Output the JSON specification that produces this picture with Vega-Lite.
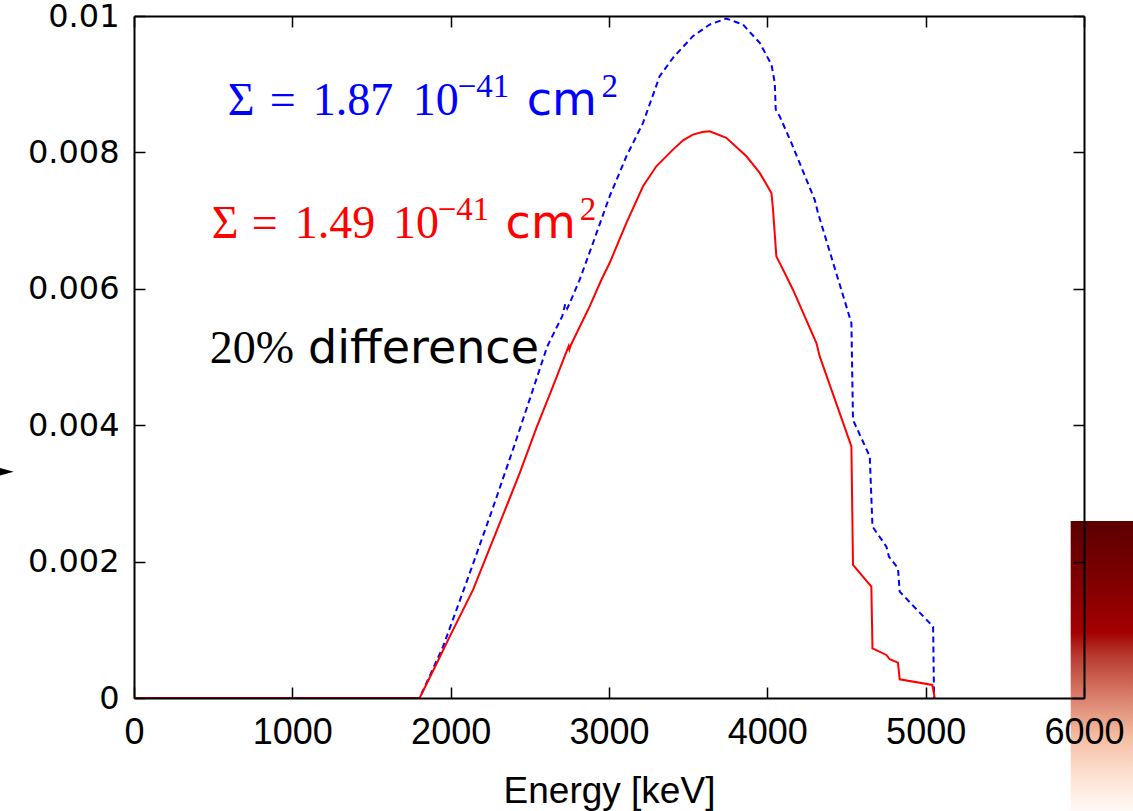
{
  "$schema": "https://vega.github.io/schema/vega-lite/v6.json",
  "width": 950,
  "height": 682,
  "autosize": {"type": "none"},
  "padding": {"left": 134, "top": 16, "right": 49, "bottom": 113},
  "background": "white",
  "config": {"view": {"stroke": null}},
  "datasets": {
    "curves": [
      {"E": 0, "v": 0, "s": "1.87"}, {"E": 1804, "v": 0, "s": "1.87"}, {"E": 1952, "v": 0.000753, "s": "1.87"},
      {"E": 2105, "v": 0.001731, "s": "1.87"}, {"E": 2255, "v": 0.00271, "s": "1.87"}, {"E": 2400, "v": 0.003688, "s": "1.87"},
      {"E": 2505, "v": 0.004421, "s": "1.87"}, {"E": 2610, "v": 0.005155, "s": "1.87"}, {"E": 2705, "v": 0.0056, "s": "1.87"},
      {"E": 2724, "v": 0.00578, "s": "1.87"}, {"E": 2736, "v": 0.00571, "s": "1.87"}, {"E": 2752, "v": 0.005791, "s": "1.87"},
      {"E": 2815, "v": 0.006134, "s": "1.87"}, {"E": 2899, "v": 0.006672, "s": "1.87"}, {"E": 3004, "v": 0.007356, "s": "1.87"},
      {"E": 3110, "v": 0.007943, "s": "1.87"}, {"E": 3215, "v": 0.008433, "s": "1.87"}, {"E": 3320, "v": 0.009117, "s": "1.87"},
      {"E": 3404, "v": 0.009387, "s": "1.87"}, {"E": 3530, "v": 0.009704, "s": "1.87"}, {"E": 3636, "v": 0.009875, "s": "1.87"},
      {"E": 3741, "v": 0.009963, "s": "1.87"}, {"E": 3846, "v": 0.009875, "s": "1.87"}, {"E": 3952, "v": 0.009606, "s": "1.87"},
      {"E": 4026, "v": 0.009288, "s": "1.87"}, {"E": 4047, "v": 0.00902, "s": "1.87"}, {"E": 4053, "v": 0.008628, "s": "1.87"},
      {"E": 4078, "v": 0.00853, "s": "1.87"}, {"E": 4152, "v": 0.008139, "s": "1.87"}, {"E": 4204, "v": 0.007846, "s": "1.87"},
      {"E": 4299, "v": 0.007307, "s": "1.87"}, {"E": 4320, "v": 0.007112, "s": "1.87"}, {"E": 4531, "v": 0.005498, "s": "1.87"},
      {"E": 4541, "v": 0.004079, "s": "1.87"}, {"E": 4647, "v": 0.003541, "s": "1.87"}, {"E": 4664, "v": 0.002514, "s": "1.87"},
      {"E": 4752, "v": 0.00222, "s": "1.87"}, {"E": 4768, "v": 0.002073, "s": "1.87"}, {"E": 4825, "v": 0.001903, "s": "1.87"},
      {"E": 4836, "v": 0.00156, "s": "1.87"}, {"E": 5047, "v": 0.001046, "s": "1.87"}, {"E": 5053, "v": 0, "s": "1.87"},
      {"E": 0, "v": 0, "s": "1.49"}, {"E": 1804, "v": 0, "s": "1.49"}, {"E": 1900, "v": 0.00045, "s": "1.49"},
      {"E": 1994, "v": 0.0009, "s": "1.49"}, {"E": 2141, "v": 0.001585, "s": "1.49"}, {"E": 2310, "v": 0.002563, "s": "1.49"},
      {"E": 2436, "v": 0.003297, "s": "1.49"}, {"E": 2541, "v": 0.003957, "s": "1.49"}, {"E": 2646, "v": 0.004568, "s": "1.49"},
      {"E": 2745, "v": 0.00516, "s": "1.49"}, {"E": 2750, "v": 0.00511, "s": "1.49"}, {"E": 2760, "v": 0.00518, "s": "1.49"},
      {"E": 2878, "v": 0.005742, "s": "1.49"}, {"E": 2952, "v": 0.006133, "s": "1.49"}, {"E": 3004, "v": 0.006378, "s": "1.49"},
      {"E": 3110, "v": 0.006966, "s": "1.49"}, {"E": 3215, "v": 0.007503, "s": "1.49"}, {"E": 3299, "v": 0.007796, "s": "1.49"},
      {"E": 3404, "v": 0.008041, "s": "1.49"}, {"E": 3470, "v": 0.00818, "s": "1.49"}, {"E": 3530, "v": 0.008261, "s": "1.49"},
      {"E": 3590, "v": 0.0083, "s": "1.49"}, {"E": 3636, "v": 0.00831, "s": "1.49"}, {"E": 3741, "v": 0.008213, "s": "1.49"},
      {"E": 3868, "v": 0.007943, "s": "1.49"}, {"E": 3952, "v": 0.007699, "s": "1.49"}, {"E": 4026, "v": 0.007405, "s": "1.49"},
      {"E": 4036, "v": 0.00716, "s": "1.49"}, {"E": 4057, "v": 0.006476, "s": "1.49"}, {"E": 4110, "v": 0.006232, "s": "1.49"},
      {"E": 4162, "v": 0.005987, "s": "1.49"}, {"E": 4310, "v": 0.005205, "s": "1.49"}, {"E": 4331, "v": 0.005008, "s": "1.49"},
      {"E": 4531, "v": 0.003688, "s": "1.49"}, {"E": 4541, "v": 0.001952, "s": "1.49"}, {"E": 4657, "v": 0.001633, "s": "1.49"},
      {"E": 4664, "v": 0.000729, "s": "1.49"}, {"E": 4752, "v": 0.000631, "s": "1.49"}, {"E": 4773, "v": 0.000568, "s": "1.49"},
      {"E": 4825, "v": 0.000518, "s": "1.49"}, {"E": 4836, "v": 0.000274, "s": "1.49"}, {"E": 5042, "v": 0.000191, "s": "1.49"},
      {"E": 5057, "v": 0, "s": "1.49"}
    ],
    "notes": [
      {"t": "Σ", "E": 592, "v": 0.008555, "c": "b", "p": "serif"},
      {"t": "=", "E": 857, "v": 0.008555, "c": "b", "p": "serif"},
      {"t": "1.87", "E": 1129, "v": 0.008555, "c": "b", "p": "serif"},
      {"t": "10", "E": 1760, "v": 0.008555, "c": "b", "p": "serif"},
      {"t": "−41", "E": 2044, "v": 0.008819, "c": "b", "p": "sup"},
      {"t": "cm", "E": 2481, "v": 0.008555, "c": "b", "p": "sans"},
      {"t": "2", "E": 2952, "v": 0.008819, "c": "b", "p": "sup"},
      {"t": "Σ", "E": 491, "v": 0.006745, "c": "r", "p": "serif"},
      {"t": "=", "E": 743, "v": 0.006745, "c": "r", "p": "serif"},
      {"t": "1.49", "E": 1015, "v": 0.006745, "c": "r", "p": "serif"},
      {"t": "10", "E": 1635, "v": 0.006745, "c": "r", "p": "serif"},
      {"t": "−41", "E": 1918, "v": 0.007014, "c": "r", "p": "sup"},
      {"t": "cm", "E": 2347, "v": 0.006745, "c": "r", "p": "sans"},
      {"t": "2", "E": 2815, "v": 0.007014, "c": "r", "p": "sup"},
      {"t": "20%", "E": 479, "v": 0.004911, "c": "k", "p": "serif"},
      {"t": "difference", "E": 1099, "v": 0.004911, "c": "k", "p": "sans"}
    ]
  },
  "layer": [
    {
      "data": {"values": [{}]},
      "mark": {
        "type": "rect",
        "fill": {
          "gradient": "linear", "x1": 0, "y1": 0, "x2": 0, "y2": 1,
          "stops": [
            {"offset": 0, "color": "#5a0000"},
            {"offset": 0.2, "color": "#800000"},
            {"offset": 0.37, "color": "#a30000"},
            {"offset": 0.45, "color": "#b83a30"},
            {"offset": 0.6, "color": "#dd8570"},
            {"offset": 0.72, "color": "#f5bda2"},
            {"offset": 0.85, "color": "#fde2d2"},
            {"offset": 1, "color": "#ffffff"}
          ]
        }
      },
      "encoding": {
        "x": {"datum": 5916, "type": "quantitative", "axis": null},
        "x2": {"datum": 6330},
        "y": {"datum": 0.002597, "type": "quantitative", "axis": null},
        "y2": {"datum": -0.0018}
      }
    },
    {
      "data": {"name": "curves"},
      "transform": [{"filter": "datum.s === '1.87'"}],
      "mark": {"type": "line", "color": "#0000ff", "strokeWidth": 2, "strokeDash": [6, 4]},
      "encoding": {
        "x": {
          "field": "E", "type": "quantitative",
          "scale": {"domain": [0, 6000], "nice": false, "zero": false},
          "axis": {"orient": "top", "values": [0, 1000, 2000, 3000, 4000, 5000, 6000], "labels": false, "title": null,
                   "tickSize": -11, "tickColor": "#000", "tickWidth": 1.5, "domainColor": "#000", "domainWidth": 2, "grid": false, "zindex": 1}
        },
        "y": {
          "field": "v", "type": "quantitative",
          "scale": {"domain": [0, 0.01], "nice": false, "zero": false},
          "axis": {"orient": "right", "values": [0, 0.002, 0.004, 0.006, 0.008, 0.01], "labels": false, "title": null,
                   "tickSize": -11, "tickColor": "#000", "tickWidth": 1.5, "domainColor": "#000", "domainWidth": 2, "grid": false, "zindex": 1}
        },
        "order": {"field": "E", "type": "quantitative"}
      }
    },
    {
      "data": {"name": "curves"},
      "transform": [{"filter": "datum.s === '1.49'"}],
      "mark": {"type": "line", "color": "#ff0000", "strokeWidth": 2},
      "encoding": {
        "x": {
          "field": "E", "type": "quantitative",
          "axis": {"orient": "bottom", "values": [0, 1000, 2000, 3000, 4000, 5000, 6000], "format": "d",
                   "title": "Energy [keV]", "titleFont": "Liberation Sans", "titleFontSize": 37, "titleFontWeight": "normal",
                   "titleColor": "#000", "titlePadding": 23,
                   "labelFont": "Liberation Sans", "labelFontSize": 36, "labelColor": "#000", "labelPadding": 28,
                   "labelFlush": false, "labelOverlap": false, "labelBound": false,
                   "tickSize": -11, "tickColor": "#000", "tickWidth": 1.5, "domainColor": "#000", "domainWidth": 2, "grid": false, "zindex": 1}
        },
        "y": {
          "field": "v", "type": "quantitative",
          "axis": {"orient": "left", "values": [0, 0.002, 0.004, 0.006, 0.008, 0.01], "labelExpr": "'' + datum.value",
                   "title": null, "labelFont": "DejaVu Sans", "labelFontSize": 32, "labelColor": "#000", "labelPadding": 26,
                   "labelOverlap": false, "labelBound": false, "labelFlush": false,
                   "tickSize": -11, "tickColor": "#000", "tickWidth": 1.5, "domainColor": "#000", "domainWidth": 2, "grid": false, "zindex": 1}
        },
        "order": {"field": "E", "type": "quantitative"}
      }
    },
    {
      "data": {"name": "notes"},
      "transform": [{"filter": "datum.p === 'serif'"}],
      "mark": {"type": "text", "font": "Liberation Serif", "fontSize": 46, "align": "left", "baseline": "alphabetic"},
      "encoding": {
        "x": {"field": "E", "type": "quantitative", "axis": null},
        "y": {"field": "v", "type": "quantitative", "axis": null},
        "text": {"field": "t"},
        "color": {"field": "c", "type": "nominal", "scale": {"domain": ["b", "r", "k"], "range": ["#0000ff", "#ff0000", "#000000"]}, "legend": null}
      }
    },
    {
      "data": {"name": "notes"},
      "transform": [{"filter": "datum.p === 'sup'"}],
      "mark": {"type": "text", "font": "Liberation Serif", "fontSize": 33, "align": "left", "baseline": "alphabetic"},
      "encoding": {
        "x": {"field": "E", "type": "quantitative", "axis": null},
        "y": {"field": "v", "type": "quantitative", "axis": null},
        "text": {"field": "t"},
        "color": {"field": "c", "type": "nominal", "legend": null}
      }
    },
    {
      "data": {"name": "notes"},
      "transform": [{"filter": "datum.p === 'sans'"}],
      "mark": {"type": "text", "font": "DejaVu Sans", "fontSize": 46, "align": "left", "baseline": "alphabetic"},
      "encoding": {
        "x": {"field": "E", "type": "quantitative", "axis": null},
        "y": {"field": "v", "type": "quantitative", "axis": null},
        "text": {"field": "t"},
        "color": {"field": "c", "type": "nominal", "legend": null}
      }
    },
    {
      "data": {"values": [{}]},
      "mark": {"type": "point", "shape": "M-1,-0.55L1,0L-1,0.55Z", "filled": true, "color": "#000", "size": 196, "opacity": 1},
      "encoding": {
        "x": {"datum": -804, "type": "quantitative", "axis": null},
        "y": {"datum": 0.003316, "type": "quantitative", "axis": null}
      }
    }
  ],
  "resolve": {"axis": {"x": "independent", "y": "independent"}}
}
